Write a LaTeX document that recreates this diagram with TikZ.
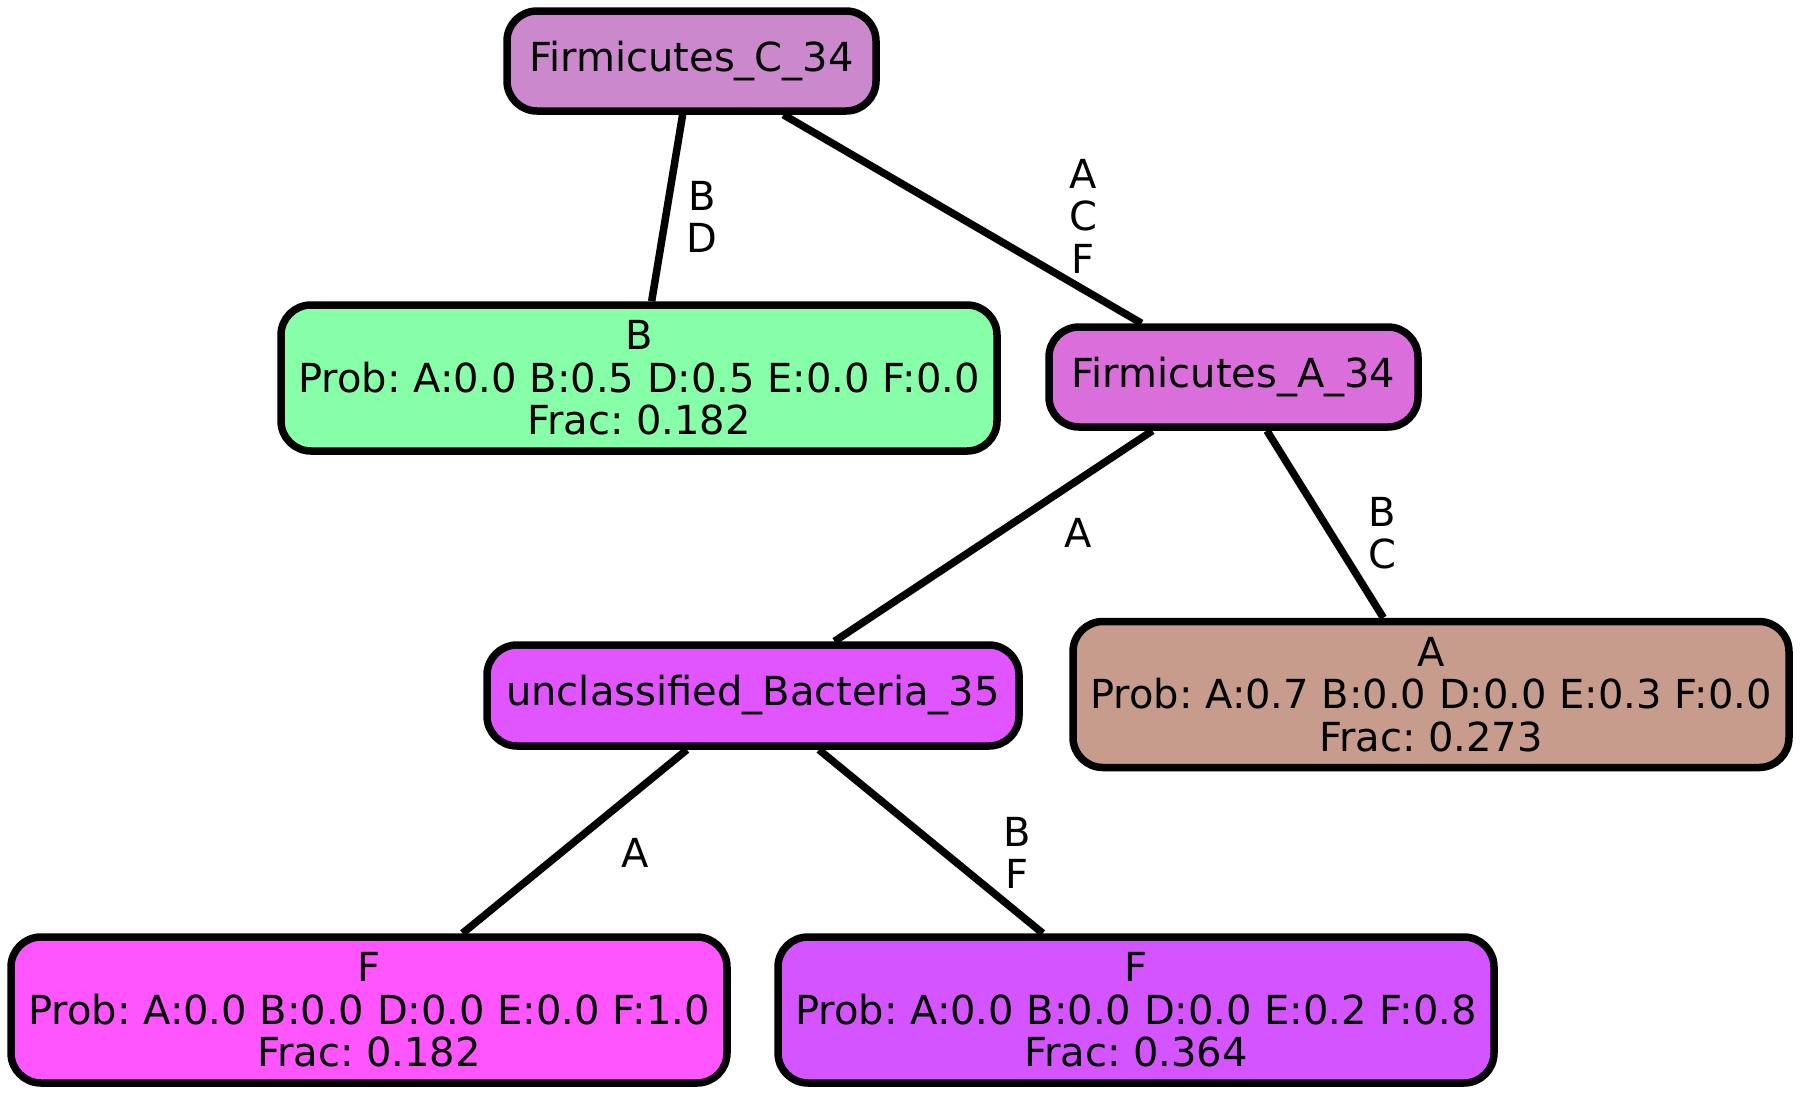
\documentclass[tikz,border=0pt]{standalone}
\usepackage{fontspec}
\setmainfont{DejaVu Sans}
\frenchspacing
\definecolor{cC}{HTML}{CC88CC}
\definecolor{cA}{HTML}{DA6EDA}
\definecolor{cB}{HTML}{86FFA8}
\definecolor{cU}{HTML}{E055FF}
\definecolor{cBr}{HTML}{C89C8C}
\definecolor{cF}{HTML}{FF55FF}
\definecolor{cP}{HTML}{D455FF}
\tikzset{
  box/.style={draw=black, line width=7.5pt, rounded corners=30pt, inner sep=0pt,
    align=center, font=\frenchspacing\fontsize{40}{42.5}\selectfont},
  small/.style={box, minimum width=369pt, minimum height=100pt},
  big/.style={box, minimum width=716pt, minimum height=146pt},
  edge/.style={draw=black, line width=7.5pt},
  elab/.style={align=center, inner sep=0pt, font=\fontsize{40}{42.5}\selectfont}
}
\begin{document}
\begin{tikzpicture}[x=1pt,y=-1pt]
\useasboundingbox[fill=white] (0,0) rectangle (1800,1096);
\node[small, fill=cC] (fc) at (691.5,61) {Firmicutes\_C\_34};
\node[big, fill=cB] (b) at (639,378) {B\\Prob: A:0.0 B:0.5 D:0.5 E:0.0 F:0.0\\Frac: 0.182};
\node[small, fill=cA] (fa) at (1233.5,377) {Firmicutes\_A\_34};
\node[box, fill=cU, minimum width=532pt, minimum height=101pt] (u) at (753,695.5) {unclassified\_Bacteria\_35};
\node[big, fill=cBr] (a) at (1431,694.5) {A\\Prob: A:0.7 B:0.0 D:0.0 E:0.3 F:0.0\\Frac: 0.273};
\node[big, fill=cF] (f1) at (369,1010) {F\\Prob: A:0.0 B:0.0 D:0.0 E:0.0 F:1.0\\Frac: 0.182};
\node[big, fill=cP] (f2) at (1136,1010) {F\\Prob: A:0.0 B:0.0 D:0.0 E:0.2 F:0.8\\Frac: 0.364};
\draw[edge] (fc) -- (b);
\draw[edge] (fc) -- (fa);
\draw[edge] (fa) -- (u);
\draw[edge] (fa) -- (a);
\draw[edge] (u) -- (f1);
\draw[edge] (u) -- (f2);
\node[elab] (l1) at (702,217) {B\\D};
\node[elab] (l2) at (1083,216) {A\\C\\F};
\node[elab] (l3) at (1078,533) {A};
\node[elab] (l4) at (1382,533) {B\\C};
\node[elab] (l5) at (635,853) {A};
\node[elab] (l6) at (1017,853) {B\\F};
\end{tikzpicture}
\end{document}
